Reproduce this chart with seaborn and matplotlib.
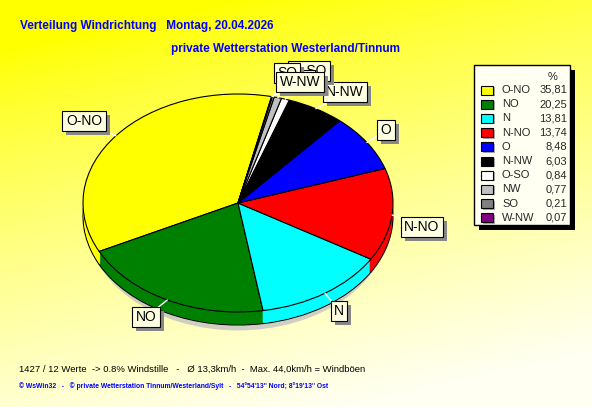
import numpy as np
import matplotlib
matplotlib.use("Agg")
import matplotlib.pyplot as plt
import seaborn as sns
from matplotlib.patches import Rectangle, Ellipse

sns.set_style("white")
plt.rcParams['font.family'] = ['Liberation Sans', 'DejaVu Sans']

# ---- data ----
directions = ["O-NO", "NO", "N", "N-NO", "O", "N-NW", "O-SO", "NW", "SO", "W-NW"]
percent = [35.81, 20.25, 13.81, 13.74, 8.48, 6.03, 0.84, 0.77, 0.21, 0.07]
percent_labels = ["35,81", "20,25", "13,81", "13,74", "8,48", "6,03", "0,84", "0,77", "0,21", "0,07"]
colors = ["#FFFF00", "#008000", "#00FFFF", "#FF0000", "#0000FF", "#000000",
          "#FFFFFF", "#C0C0C0", "#808080", "#800080"]
title1 = "Verteilung Windrichtung   Montag, 20.04.2026"
title2 = "private Wetterstation Westerland/Tinnum"
info = "1427 / 12 Werte  -> 0.8% Windstille   -   Ø 13,3km/h  -  Max. 44,0km/h = Windböen"
footer = "© WsWin32   -   © private Wetterstation Tinnum/Westerland/Sylt   -   54°54'13'' Nord; 8°19'13'' Ost"

# ---- layout (pixels) ----
W, H = 592, 407
cx, cy, rx, ry = 238, 203, 155, 109
depth = 13
# label box centres (pixel coords); drawn in this order (later on top)
label_pos = {"O-NO": (84, 121), "NO": (146, 317), "N": (339, 311), "N-NO": (422, 227),
             "O": (386, 130), "N-NW": (345, 92), "O-SO": (309, 71), "NW": (300, 80),
             "SO": (287, 73), "W-NW": (300, 82)}

fig = plt.figure(figsize=(W / 100, H / 100), dpi=100)

# background gradient
bg = fig.add_axes([0, 0, 1, 1])
yy, xx = np.mgrid[0:H, 0:W]
t = np.clip(0.95 * yy / H + 0.3 * xx / W - 0.12, 0, 1)
img = np.zeros((H, W, 3))
img[..., 0] = 1
img[..., 1] = 1
img[..., 2] = 0.95 * t ** 0.8
bg.imshow(img, extent=[0, W, H, 0], aspect="auto")
bg.set_xlim(0, W)
bg.set_ylim(H, 0)
bg.axis("off")

# pie axes: unit circle maps to the ellipse
pax = fig.add_axes([(cx - rx) / W, 1 - (cy + ry) / H, 2 * rx / W, 2 * ry / H])
pax.set_zorder(2)
pax.patch.set_alpha(0)
d = depth / ry
# shadow
sh = Ellipse((0.0, -d - 0.05), 1.96, 2.0, fc="#c4c4c4", ec="none", alpha=0.8, clip_on=False)
pax.add_patch(sh)
startangle = 77.5
# bottom slab with outline
w0, _ = pax.pie(percent, colors=colors, startangle=startangle, center=(0, -d), radius=1,
                wedgeprops=dict(edgecolor="black", linewidth=0.8), normalize=True)
for k in np.linspace(d, 0, 14):
    ws, _ = pax.pie(percent, colors=colors, startangle=startangle, center=(0, -k), radius=0.995,
                    wedgeprops=dict(edgecolor="none", linewidth=0), normalize=True)
    for w in ws:
        w.set_clip_on(False)
wedges, _ = pax.pie(percent, colors=colors, startangle=startangle, center=(0, 0), radius=1,
                    wedgeprops=dict(edgecolor="black", linewidth=0.8), normalize=True)
for w in list(w0) + list(wedges):
    w.set_clip_on(False)
pax.set_aspect("auto")
pax.set_xlim(-1, 1)
pax.set_ylim(-1, 1)
pax.axis("off")

# overlay for labels / text
top = fig.add_axes([0, 0, 1, 1])
top.set_zorder(3)
top.patch.set_alpha(0)
top.set_xlim(0, W)
top.set_ylim(H, 0)
top.axis("off")

box_fc = "#FFFFE1"
for i, (name, w) in enumerate(zip(directions, wedges)):
    mid = np.deg2rad((w.theta1 + w.theta2) / 2)
    px, py = pax.transData.transform((np.cos(mid), np.sin(mid)))
    sx, sy = top.transData.inverted().transform((px, py))
    lx, ly = label_pos[name]
    top.plot([sx, lx], [sy, ly], color="white", lw=1, zorder=5 + 3 * i)
    top.text(lx + 4, ly + 4, name, fontsize=10, color=(0, 0, 0, 0), ha="center", va="center",
             zorder=6 + 3 * i,
             bbox=dict(boxstyle="square,pad=0.25", fc="#888888", ec="none"))
    top.text(lx, ly, name, fontsize=10, color="black", ha="center", va="center",
             zorder=7 + 3 * i,
             bbox=dict(boxstyle="square,pad=0.25", fc=box_fc, ec="black", lw=0.8))

# legend box
lx0, ly0, lw_, lh_ = 474, 65, 96, 160
top.add_patch(Rectangle((lx0 + 5, ly0 + 5), lw_, lh_, fc="black", ec="none", zorder=50))
top.add_patch(Rectangle((lx0, ly0), lw_, lh_, fc="#FFFFF2", ec="black", lw=1, zorder=51))
top.text(553, 77, "%", fontsize=8, ha="center", va="center", zorder=52)
for i, (name, val, c) in enumerate(zip(directions, percent_labels, colors)):
    yr = 90 + i * 14.2
    top.add_patch(Rectangle((483, yr - 3), 12, 9, fc="#aaaaaa", ec="none", zorder=52))
    top.add_patch(Rectangle((481, yr - 4.5), 12, 9, fc=c, ec="black", lw=0.8, zorder=53))
    top.text(502, yr, name, fontsize=8, ha="left", va="center", zorder=53)
    top.text(567, yr, val, fontsize=8, ha="right", va="center", zorder=53)

# titles and texts
top.text(20, 26, title1, fontsize=8.5, fontweight="bold", color="#0000FF", ha="left", va="center")
top.text(171, 49, title2, fontsize=8.5, fontweight="bold", color="#0000FF", ha="left", va="center")
top.text(19, 369, info, fontsize=6.8, color="black", ha="left", va="center")
top.text(19, 386, footer, fontsize=4.9, fontweight="bold", color="#0000FF", ha="left", va="center")

fig.savefig("out.png", dpi=100)
